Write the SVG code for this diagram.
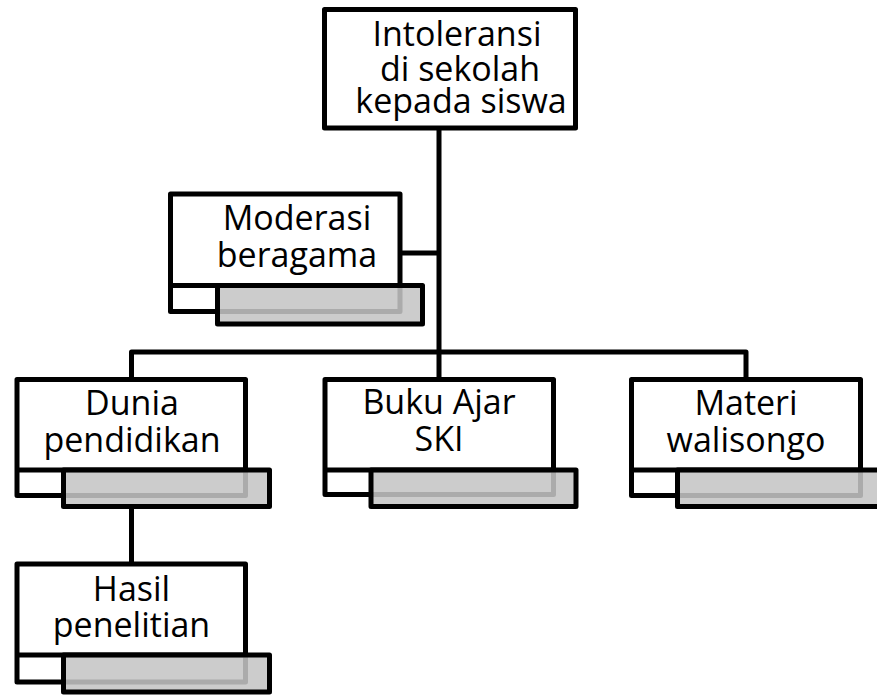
<svg xmlns="http://www.w3.org/2000/svg" width="877" height="695" viewBox="0 0 877 695">
<style>
  .box { fill: #ffffff; stroke: #000000; stroke-width: 5; stroke-linejoin: round; }
  .div { fill: none; stroke: #000000; stroke-width: 5; }
  .bar { fill: #c4c4c4; fill-opacity: 0.87; stroke: #000000; stroke-width: 5; stroke-linejoin: round; }
  .conn { fill: none; stroke: #000000; stroke-width: 5; stroke-linejoin: round; }
  .t { font-family: "Open Sans", "Noto Sans", "DejaVu Sans", sans-serif; font-size: 34px; fill: #000000; text-anchor: middle; }
</style>
<rect width="877" height="695" fill="#ffffff"/>
<g id="connectors">
  <path class="conn" d="M439,128 V380"/>
  <path class="conn" d="M400,253 H439"/>
  <path class="conn" d="M131.5,379.5 V352 H746 V379.5"/>
  <path class="conn" d="M131.5,506 V564"/>
</g>
<g id="node-intoleransi">
  <rect class="box" x="324.5" y="9.5" width="251" height="118.5"/>
  <text class="t" x="457" y="45.5">Intoleransi</text>
  <text class="t" x="460" y="80.5">di sekolah</text>
  <text class="t" x="461" y="113">kepada siswa</text>
</g>
<g id="node-moderasi">
  <rect class="box" x="170.5" y="194" width="229.5" height="117.5"/>
  <line class="div" x1="170.5" y1="285.5" x2="400" y2="285.5"/>
  <rect class="bar" x="217.5" y="285.5" width="205" height="38.5"/>
  <text class="t" x="297" y="230">Moderasi</text>
  <text class="t" x="297" y="267">beragama</text>
</g>
<g id="node-dunia">
  <rect class="box" x="17" y="379.5" width="228.5" height="116"/>
  <line class="div" x1="17" y1="470" x2="245.5" y2="470"/>
  <rect class="bar" x="63.5" y="470" width="206" height="36.5"/>
  <text class="t" x="132" y="415">Dunia</text>
  <text class="t" x="132" y="451.5">pendidikan</text>
</g>
<g id="node-buku">
  <rect class="box" x="325" y="379.5" width="228.5" height="115"/>
  <line class="div" x1="325" y1="470" x2="553.5" y2="470"/>
  <rect class="bar" x="371" y="470" width="205" height="36.5"/>
  <text class="t" x="439" y="414">Buku Ajar</text>
  <text class="t" x="439" y="451">SKI</text>
</g>
<g id="node-materi">
  <rect class="box" x="631.5" y="379.5" width="229" height="116"/>
  <line class="div" x1="631.5" y1="470" x2="860.5" y2="470"/>
  <rect class="bar" x="677.5" y="470" width="206" height="36.5"/>
  <text class="t" x="746" y="415">Materi</text>
  <text class="t" x="746" y="451.5">walisongo</text>
</g>
<g id="node-hasil">
  <rect class="box" x="17" y="564" width="228.5" height="118"/>
  <line class="div" x1="17" y1="655" x2="245.5" y2="655"/>
  <rect class="bar" x="63.5" y="655" width="206" height="37"/>
  <text class="t" x="131.5" y="600.5">Hasil</text>
  <text class="t" x="131.5" y="636.5">penelitian</text>
</g>
</svg>
